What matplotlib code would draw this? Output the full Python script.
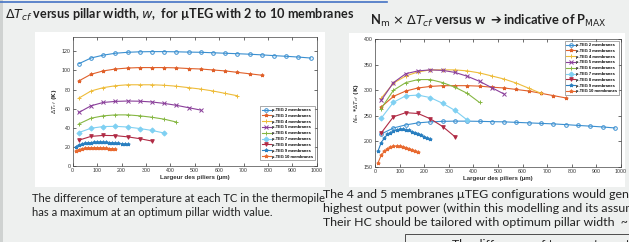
import matplotlib
matplotlib.use("Agg")
import matplotlib.pyplot as plt
import matplotlib.patches as pat
import numpy as np

W, H = 629, 242

# pillar widths (um)
w_2 = [25, 75, 125, 175, 225, 275, 325, 375, 425, 475, 525, 575, 625, 675, 725, 775, 825, 875, 925, 975]
w_3 = [25, 75, 125, 175, 225, 275, 325, 375, 425, 475, 525, 575, 625, 675, 725, 775]
w_4 = [25, 75, 125, 175, 225, 275, 325, 375, 425, 475, 525, 575, 625, 675]
w_5 = [25, 75, 125, 175, 225, 275, 325, 375, 425, 475, 525]
w_6 = [25, 75, 125, 175, 225, 275, 325, 375, 425]
w_7 = [25, 75, 125, 175, 225, 275, 325, 375]
w_8 = [25, 75, 125, 175, 225, 275, 325]
w_9 = [12.5, 25, 37.5, 50, 62.5, 75, 87.5, 100, 112.5, 125, 137.5, 150, 162.5, 175, 187.5, 200, 212.5, 225]
w_10 = [12.5, 25, 37.5, 50, 62.5, 75, 87.5, 100, 112.5, 125, 137.5, 150, 162.5, 175]

# delta T_cf (K)
dT_2 = [107, 113, 116, 118, 119, 119.5, 119.7, 119.7, 119.5, 119.2, 119, 118.5, 118, 117.5, 117, 116.3, 115.5, 114.8, 114, 113]
dT_3 = [89, 96, 99.5, 101.5, 102.5, 103, 103, 103, 102.7, 102, 101.5, 100.5, 99.5, 98, 96.5, 95]
dT_4 = [71, 78.5, 82, 84, 85, 85, 85, 84.5, 83.5, 82, 80.5, 78.5, 76, 73.5]
dT_5 = [56, 63, 66.5, 67.6, 68, 67.8, 67, 65.5, 63.5, 61, 58.5]
dT_6 = [44, 50, 52.5, 53.5, 53.5, 52.5, 51, 49, 46]
dT_7 = [35, 39.5, 41.3, 41.5, 40.8, 39.2, 37.2, 34.5]
dT_8 = [27, 31, 32, 31.8, 30.5, 28.6, 26.1]
dT_9 = [20.1, 21.9, 22.9, 23.7, 24.1, 24.4, 24.7, 24.8, 24.8, 24.7, 24.6, 24.3, 24.1, 23.9, 23.6, 23.2, 22.9, 22.6]
dT_10 = [15.8, 17.2, 18.0, 18.5, 18.85, 19.0, 19.05, 19.0, 18.9, 18.75, 18.55, 18.3, 18.05, 17.8]

n_membranes = [2, 3, 4, 5, 6, 7, 8, 9, 10]
widths = [w_2, w_3, w_4, w_5, w_6, w_7, w_8, w_9, w_10]
deltas = [dT_2, dT_3, dT_4, dT_5, dT_6, dT_7, dT_8, dT_9, dT_10]
labels = ["\u00b5-TEG %d membranes" % n for n in n_membranes]

colors = ['#3a8fd0', '#e0602a', '#eebc3a', '#8a3f9a', '#86b743', '#7fd0f2', '#b02a44', '#2a7fc0', '#e86a30']
markers = ['o', '*', '+', 'x', '+', 'D', 'v', '*', '*']
bg = '#eef0ef'


def px(x, y):
    return x / W, 1 - y / H


def axes_px(fig, x0, y0, x1, y1):
    return fig.add_axes([x0 / W, 1 - y1 / H, (x1 - x0) / W, (y1 - y0) / H])


def style_ax(ax):
    ax.tick_params(direction='in', length=2, width=0.5, labelsize=3.8, pad=1.5,
                   top=True, right=True, colors='#333333')
    for s in ax.spines.values():
        s.set_linewidth(0.5)
        s.set_color('#444444')
    for t in ax.get_xticklabels() + ax.get_yticklabels():
        t.set_family('Liberation Sans')


fig = plt.figure(figsize=(W / 100, H / 100), dpi=100)
fig.patch.set_facecolor(bg)

# slide decorations (behind the axes)
fig.add_artist(pat.Rectangle(px(0, 242), 2.5 / W, 1, transform=fig.transFigure, color='#cfd2d1', lw=0, zorder=-2))
fig.add_artist(plt.Line2D([0, 387 / W], [1 - 1.5 / H] * 2, transform=fig.transFigure, color='#4472c4', lw=1.2, zorder=-2))
fig.add_artist(pat.Rectangle(px(35, 187), 290 / W, 155 / H, transform=fig.transFigure, color='white', lw=0, zorder=-2))
fig.add_artist(pat.Rectangle(px(349, 187), 276 / W, 154 / H, transform=fig.transFigure, color='white', lw=0, zorder=-2))

# left chart
ax1 = axes_px(fig, 72.7, 37, 316.7, 166)
for x, y, c, m, lab in zip(widths, deltas, colors, markers, labels):
    ax1.plot(x, y, color=c, marker=m, ms=2.6, lw=0.8, mew=0.7,
             mfc='none' if m == 'o' else c, label=lab)
ax1.set_xlim(0, 1000)
ax1.set_ylim(0, 135)
ax1.set_xticks(np.arange(0, 1001, 100))
ax1.set_yticks(np.arange(0, 121, 20))
ax1.set_xlabel('Largeur des piliers (\u00b5m)', fontsize=4.4, fontweight='bold', labelpad=1.5,
               family='Liberation Sans', color='#333333')
ax1.set_ylabel('$\\Delta T_{cf}$ (K)', fontsize=4.4, fontweight='bold', labelpad=2, color='#333333')
style_ax(ax1)
leg1 = ax1.legend(loc='lower right', frameon=True, fancybox=False, edgecolor='#444444',
                  handlelength=2.2, labelspacing=0.45, borderpad=0.4, handletextpad=0.3,
                  bbox_to_anchor=(1.0, 0.03), prop={'family': 'Liberation Sans', 'size': 2.9, 'weight': 'bold'})
leg1.get_frame().set_linewidth(0.4)

# right chart: N_m x delta T_cf
ax2 = axes_px(fig, 375, 39.3, 621, 166.7)
for n, x, y, c, m, lab in zip(n_membranes, widths, deltas, colors, markers, labels):
    ax2.plot(x, [n * v for v in y], color=c, marker=m, ms=2.6, lw=0.8, mew=0.7,
             mfc='none' if m == 'o' else c, label=lab)
ax2.set_xlim(0, 1000)
ax2.set_ylim(150, 400)
ax2.set_xticks(np.arange(0, 1001, 100))
ax2.set_yticks(np.arange(150, 401, 50))
ax2.set_xlabel('Largeur des piliers (\u00b5m)', fontsize=4.4, fontweight='bold', labelpad=1.5,
               family='Liberation Sans', color='#333333')
ax2.set_ylabel('$N_m$ *$\\Delta T_{cf}$ (K)', fontsize=4.4, fontweight='bold', labelpad=2, color='#333333')
style_ax(ax2)
leg2 = ax2.legend(loc='upper right', frameon=True, fancybox=False, edgecolor='#444444',
                  handlelength=2.2, labelspacing=0.45, borderpad=0.4, handletextpad=0.3,
                  prop={'family': 'Liberation Sans', 'size': 2.9, 'weight': 'bold'})
leg2.get_frame().set_linewidth(0.4)

# slide texts
fam = ['Lato', 'DejaVu Sans']
tc = '#222222'
renderer = fig.canvas.get_renderer()

fig.text(*px(5, 15), '$\\Delta T_{cf}$ versus pillar width, $w$,  for \u00b5TEG with 2 to 10 membranes',
         fontsize=9.1, fontweight='bold', family=fam, va='center', color=tc)

# right title in pieces so the arrow can come from DejaVu Sans
t1 = fig.text(*px(370, 21), 'N$_\\mathrm{m}$ $\\times$ $\\Delta T_{cf}$ versus w ',
              fontsize=9.3, fontweight='bold', family=fam, va='center', color=tc)
x_end = t1.get_window_extent(renderer).x1
t2 = fig.text((x_end + 3) / W, 1 - 21 / H, '\u2794', fontsize=9.3, family='DejaVu Sans',
              va='center', color=tc)
x_end = t2.get_window_extent(renderer).x1
fig.text((x_end + 2) / W, 1 - 21 / H, 'indicative of P$_\\mathrm{MAX}$',
         fontsize=9.3, fontweight='bold', family=fam, va='center', color=tc)

fs = 8.1
fig.text(*px(32, 199), 'The difference of temperature at each TC in the thermopile',
         fontsize=fs, family=fam, va='center', color=tc)
fig.text(*px(32, 212), 'has a maximum at an optimum pillar width value.',
         fontsize=fs, family=fam, va='center', color=tc)

fs2 = 8.9
fig.text(*px(323, 195), 'The 4 and 5 membranes \u00b5TEG configurations would generate the',
         fontsize=fs2, family=fam, va='center', color=tc)
fig.text(*px(323, 208), 'highest output power (within this modelling and its assumptions).',
         fontsize=fs2, family=fam, va='center', color=tc)
fig.text(*px(323, 222), 'Their HC should be tailored with optimum pillar width  ~ 200 \u00b5m',
         fontsize=fs2, family=fam, va='center', color=tc)

fig.add_artist(pat.Rectangle(px(405, 250), 240 / W, 16 / H, transform=fig.transFigure,
                             facecolor=bg, edgecolor='#333333', lw=0.6, zorder=-1))
fig.text(*px(452, 244), 'The difference of temperature at each',
         fontsize=fs2, family=fam, va='center', color=tc)

fig.savefig('out.png', dpi=100, facecolor=bg)
